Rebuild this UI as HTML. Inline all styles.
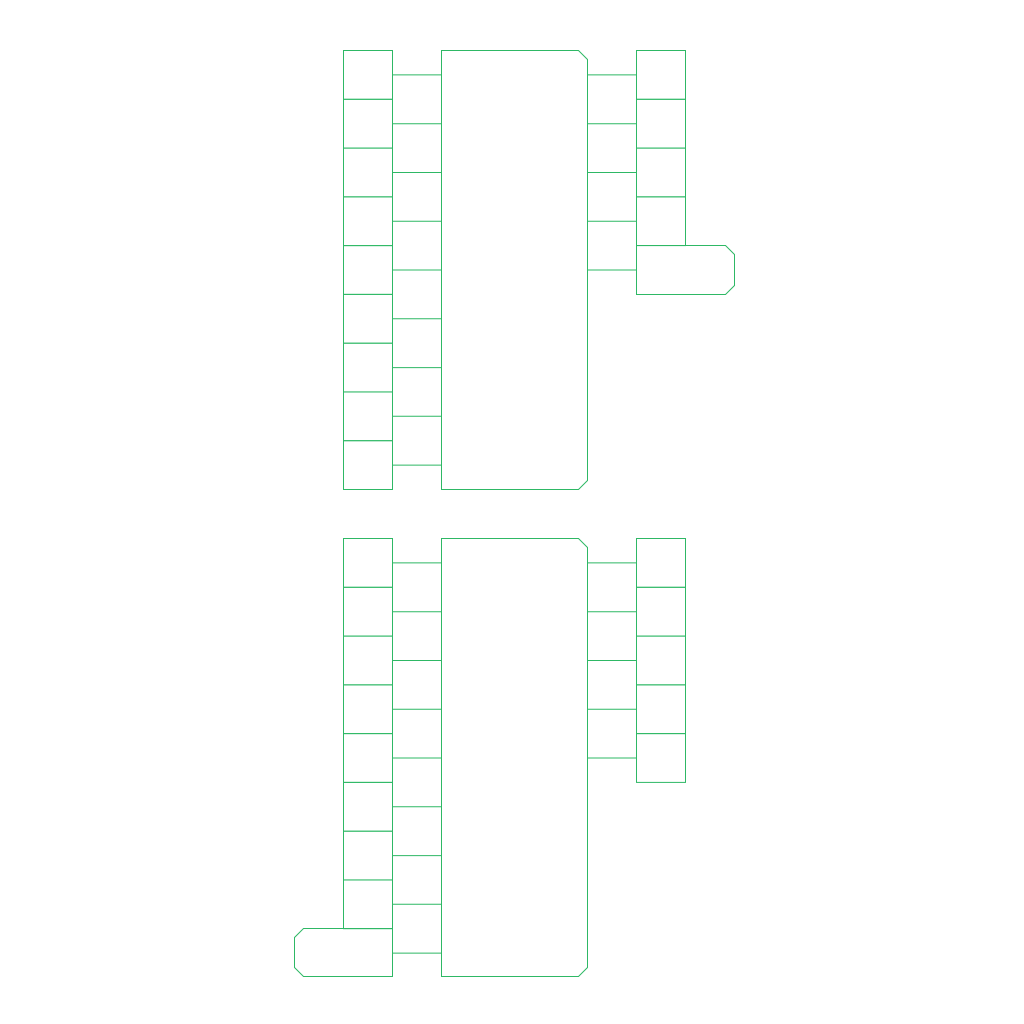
<!DOCTYPE html>
<html><head><meta charset="utf-8"><style>html,body{margin:0;padding:0;background:#fff}svg{display:block}</style></head><body>
<svg width="1024" height="1024" viewBox="0 0 1024 1024" xmlns="http://www.w3.org/2000/svg" fill="none" stroke="#2eb865" stroke-width="1">
<g transform="translate(0.5,0.5)">
<!-- top block -->
<path d="M441 50 H578 L587 59 V480 L578 489 H441 Z"/>
<rect x="343" y="50" width="49" height="48.8"/>
<rect x="343" y="98.8" width="49" height="48.8"/>
<rect x="343" y="147.6" width="49" height="48.8"/>
<rect x="343" y="196.3" width="49" height="48.8"/>
<rect x="343" y="245.1" width="49" height="48.8"/>
<rect x="343" y="293.9" width="49" height="48.8"/>
<rect x="343" y="342.7" width="49" height="48.8"/>
<rect x="343" y="391.4" width="49" height="48.8"/>
<rect x="343" y="440.2" width="49" height="48.8"/>
<path d="M392 74.4H441 M392 123.2H441 M392 172H441 M392 220.7H441 M392 269.5H441 M392 318.3H441 M392 367.1H441 M392 415.8H441 M392 464.6H441"/>
<path d="M587 74.4H636 M587 123.2H636 M587 172H636 M587 220.7H636 M587 269.5H636"/>
<rect x="636" y="50" width="49" height="48.8"/>
<rect x="636" y="98.8" width="49" height="48.8"/>
<rect x="636" y="147.6" width="49" height="48.8"/>
<rect x="636" y="196.3" width="49" height="48.8"/>
<path d="M636 245 H725 L734 254 V285 L725 294 H636 Z"/>
<!-- bottom block -->
<path d="M441 538 H578 L587 547 V967 L578 976 H441 Z"/>
<rect x="343" y="538" width="49" height="48.8"/>
<rect x="343" y="586.8" width="49" height="48.8"/>
<rect x="343" y="635.6" width="49" height="48.8"/>
<rect x="343" y="684.3" width="49" height="48.8"/>
<rect x="343" y="733.1" width="49" height="48.8"/>
<rect x="343" y="781.9" width="49" height="48.8"/>
<rect x="343" y="830.7" width="49" height="48.8"/>
<rect x="343" y="879.4" width="49" height="48.8"/>
<path d="M392 928 H303 L294 937 V967 L303 976 H392 Z"/>
<path d="M392 562.4H441 M392 611.2H441 M392 660H441 M392 708.7H441 M392 757.5H441 M392 806.3H441 M392 855.1H441 M392 903.8H441 M392 952.6H441"/>
<path d="M587 562.4H636 M587 611.2H636 M587 660H636 M587 708.7H636 M587 757.5H636"/>
<rect x="636" y="538" width="49" height="48.8"/>
<rect x="636" y="586.8" width="49" height="48.8"/>
<rect x="636" y="635.6" width="49" height="48.8"/>
<rect x="636" y="684.3" width="49" height="48.8"/>
<rect x="636" y="733.1" width="49" height="48.8"/>
</g>
</svg>
</body></html>
